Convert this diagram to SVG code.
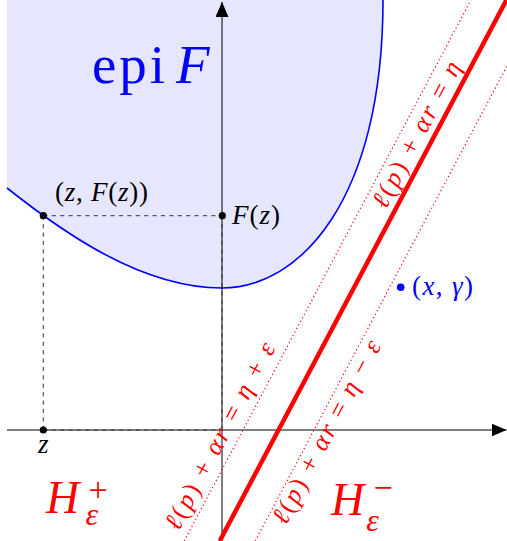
<svg xmlns="http://www.w3.org/2000/svg" width="507" height="541" viewBox="0 0 507 541">
<defs>
<marker id="arrow" markerUnits="userSpaceOnUse" viewBox="0 0 15 13" refX="15" refY="6.5" markerWidth="15" markerHeight="13" orient="auto">
<path d="M0,0 L15,6.5 L0,13 Z" fill="#000"/>
</marker>
</defs>
<style>
.math{font-family:"Liberation Serif","DejaVu Serif",serif;font-size:27px}
.rot{font-size:26px}
.it{font-style:italic}
.axis{stroke:#000;stroke-width:1;fill:none}
.dash{stroke:#333;stroke-width:1;stroke-dasharray:4.2 4.2;fill:none}
.dot{fill:#000}
.red{fill:#ff0000}
.blue{fill:#0000ff}
.dotted{stroke:#ff0000;stroke-width:1.2;stroke-dasharray:1.2 2.8;fill:none}
.thick{stroke:#ff0000;stroke-width:4.5;fill:none}
</style>

<g id="epi-region">
<path d="M7,0 L7,188 C60,230 140,288 222,288 C300,288 383,200 383,0 Z" fill="#e6e6ff" stroke="none"/>
<path d="M7,188 C60,230 140,288 222,288 C300,288 383,200 383,0" fill="none" stroke="#0000ff" stroke-width="1.6"/>
</g>

<g id="connectors">
<line class="axis" x1="222" y1="541" x2="222" y2="2" marker-end="url(#arrow)"/>
<line class="axis" x1="7" y1="430" x2="506.5" y2="430" marker-end="url(#arrow)"/>
<path class="dash" d="M43.3,215.7 L222,215.7 M43.3,215.7 L43.3,430 M43.3,430 L222,430 M222,215.7 L222,430"/>
<line class="dotted" x1="184.2" y1="541" x2="470.9" y2="0"/>
<line class="dotted" x1="255.2" y1="541" x2="507" y2="66"/>
<line class="thick" x1="219.7" y1="541" x2="506.4" y2="0"/>
</g>

<g id="point-zF">
<circle class="dot" cx="43.3" cy="215.7" r="3.6"/>
<text class="math" x="55" y="201" textLength="93">(<tspan class="it">z</tspan>, <tspan class="it">F</tspan>(<tspan class="it">z</tspan>))</text>
</g>
<g id="point-Fz">
<circle class="dot" cx="222.3" cy="215.7" r="3.6"/>
<text class="math" x="232" y="223.5" textLength="48"><tspan class="it">F</tspan>(<tspan class="it">z</tspan>)</text>
</g>
<g id="point-z">
<circle class="dot" cx="43.3" cy="430" r="3.6"/>
<text class="math it" x="43.3" y="452.5" text-anchor="middle">z</text>
</g>
<g id="point-xgamma">
<circle class="blue" cx="400.7" cy="287.3" r="3.8"/>
<text class="math blue" x="412" y="295" textLength="61">(<tspan class="it">x</tspan>, <tspan class="it">γ</tspan>)</text>
</g>

<g id="label-epi">
<text class="math blue" x="92" y="83.3" style="font-size:55px" textLength="73">epi</text>
<text class="math blue it" x="176" y="83.3" style="font-size:55px">F</text>
</g>

<g id="label-eta">
<text class="math rot red" transform="translate(423.9,138.4) rotate(-62.07)" text-anchor="middle" textLength="162"><tspan class="it">ℓ</tspan>(<tspan class="it">p</tspan>) + <tspan class="it">αr</tspan> = <tspan class="it">η</tspan></text>
</g>
<g id="label-eta-plus">
<text class="math rot red" transform="translate(227.4,439.9) rotate(-62.07)" text-anchor="middle" textLength="208"><tspan class="it">ℓ</tspan>(<tspan class="it">p</tspan>) + <tspan class="it">αr</tspan> = <tspan class="it">η</tspan> + <tspan class="it">ε</tspan></text>
</g>
<g id="label-eta-minus">
<text class="math rot red" transform="translate(333.9,435.9) rotate(-62.07)" text-anchor="middle" textLength="204"><tspan class="it">ℓ</tspan>(<tspan class="it">p</tspan>) + <tspan class="it">αr</tspan> = <tspan class="it">η</tspan> − <tspan class="it">ε</tspan></text>
</g>

<g id="label-H-plus">
<text class="math red it" x="46" y="513.3" style="font-size:46px">H</text>
<text class="math red" x="98" y="501" text-anchor="middle" style="font-size:34px">+</text>
<text class="math red it" x="91.7" y="525" text-anchor="middle" style="font-size:32px">ε</text>
</g>
<g id="label-H-minus">
<text class="math red it" x="331" y="515" style="font-size:46px">H</text>
<text class="math red" x="383" y="498.5" text-anchor="middle" style="font-size:34px">−</text>
<text class="math red it" x="372.5" y="531" text-anchor="middle" style="font-size:32px">ε</text>
</g>
</svg>
